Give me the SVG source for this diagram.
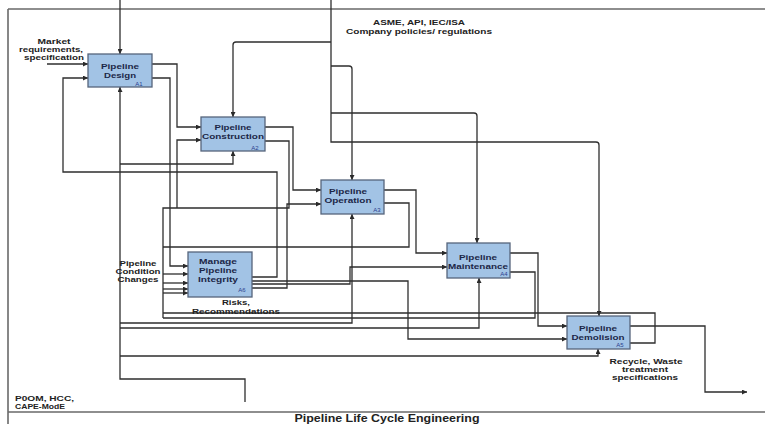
<svg xmlns="http://www.w3.org/2000/svg" width="765" height="424" viewBox="0 0 765 424">
  <defs>
    <marker id="arr" viewBox="0 0 6 6" refX="6" refY="3" markerWidth="5" markerHeight="5" markerUnits="userSpaceOnUse" orient="auto">
      <path d="M0,0 L6,3 L0,6 Z" fill="#2a2a2a"/>
    </marker>
    <style>
      .frame { fill: none; stroke: #6a6a6a; stroke-width: 1.6; }
      .ln { fill: none; stroke: #2e2e2e; stroke-width: 1.3; }
      .ar { marker-end: url(#arr); }
      .box { fill: #a2c3e5; stroke: #56657c; stroke-width: 1.3; }
      .bt { font-family: "Liberation Sans", Arial, sans-serif; font-weight: bold; font-size: 8px; fill: #1c2748; text-anchor: middle; }
      .id { font-family: "Liberation Sans", Arial, sans-serif; font-size: 6px; fill: #2d418e; text-anchor: middle; }
      .lb { font-family: "Liberation Sans", Arial, sans-serif; font-weight: bold; font-size: 8px; fill: #222; text-anchor: middle; }
      .lbs { font-family: "Liberation Sans", Arial, sans-serif; font-weight: bold; font-size: 8px; fill: #222; text-anchor: start; }
      .title { font-family: "Liberation Sans", Arial, sans-serif; font-weight: bold; font-size: 10px; fill: #222; text-anchor: middle; }
    </style>
  </defs>

  <rect x="0" y="0" width="765" height="424" fill="#ffffff"/>

  <!-- page frame -->
  <g id="frame">
    <path class="frame" d="M8,9 H765 M8,9 V424 M8,412 H765"/>
    <text class="title" x="387" y="422" textLength="185" lengthAdjust="spacingAndGlyphs">Pipeline Life Cycle Engineering</text>
  </g>

  <!-- connectors -->
  <g id="connectors">
    <!-- controls from the top -->
    <path class="ln ar" d="M120,0 V54"/>
    <path class="ln ar" d="M331,0 V142 H596 Q599,142 599,145 V316"/>
    <path class="ln ar" d="M331,42 H236 Q233,42 233,45 V117"/>
    <path class="ln ar" d="M331,66 H349 Q352,66 352,69 V180"/>
    <path class="ln ar" d="M331,113 H474 Q477,113 477,116 V243"/>

    <!-- mechanisms from the bottom -->
    <path class="ln ar" d="M245,402 V379 H120 V87"/>
    <path class="ln ar" d="M120,164 H233 V151"/>
    <path class="ln ar" d="M120,323 H352 V214"/>
    <path class="ln ar" d="M120,328 H479 V278"/>
    <path class="ln ar" d="M120,356 H598 V349"/>

    <!-- external input to A1 -->
    <path class="ln ar" d="M47,64 H88"/>

    <!-- A1 outputs -->
    <path class="ln ar" d="M152,64 H177 V127 H201"/>
    <path class="ln ar" d="M152,78 H170 V266 H188"/>

    <!-- A2 outputs -->
    <path class="ln ar" d="M265,127 H293 V190 H321"/>
    <path class="ln" d="M265,141 H289 V208 H163 V318"/>
    <path class="ln ar" d="M177,208 V140 H201"/>

    <!-- A3 outputs -->
    <path class="ln ar" d="M384,190 H416 V253 H447"/>
    <path class="ln" d="M384,203 H409 V247 H163"/>

    <!-- A4 outputs -->
    <path class="ln ar" d="M510,253 H538 V326 H567"/>
    <path class="ln" d="M510,272 H535 V318 H163"/>

    <!-- A5 outputs -->
    <path class="ln ar" d="M630,326 H705 V392 H747"/>
    <path class="ln" d="M630,343 H655 V313 H163"/>

    <!-- feedback trunk into A6 -->
    <path class="ln ar" d="M163,274 H188"/>
    <path class="ln ar" d="M163,283 H188"/>
    <path class="ln ar" d="M163,289 H188"/>
    <path class="ln ar" d="M163,293 H188"/>

    <!-- A6 outputs -->
    <path class="ln ar" d="M252,277 H277 V172 H63 V78 H88"/>
    <path class="ln ar" d="M252,281 H408 V339 H567"/>
    <path class="ln ar" d="M252,284 H350 V267 H447"/>
    <path class="ln ar" d="M252,288 H287 V204 H321"/>
  </g>

  <!-- activity boxes -->
  <g id="A1">
    <rect class="box" x="88" y="54" width="64" height="33"/>
    <text class="bt" x="120" y="69" textLength="38" lengthAdjust="spacingAndGlyphs">Pipeline</text>
    <text class="bt" x="120" y="78" textLength="32" lengthAdjust="spacingAndGlyphs">Design</text>
    <text class="id" x="139" y="86">A1</text>
  </g>
  <g id="A2">
    <rect class="box" x="201" y="117" width="64" height="34"/>
    <text class="bt" x="233" y="130" textLength="37" lengthAdjust="spacingAndGlyphs">Pipeline</text>
    <text class="bt" x="233" y="139" textLength="62" lengthAdjust="spacingAndGlyphs">Construction</text>
    <text class="id" x="255" y="150">A2</text>
  </g>
  <g id="A3">
    <rect class="box" x="321" y="180" width="63" height="34"/>
    <text class="bt" x="348" y="194" textLength="38" lengthAdjust="spacingAndGlyphs">Pipeline</text>
    <text class="bt" x="348" y="203" textLength="47" lengthAdjust="spacingAndGlyphs">Operation</text>
    <text class="id" x="377" y="212">A3</text>
  </g>
  <g id="A4">
    <rect class="box" x="447" y="243" width="63" height="35"/>
    <text class="bt" x="478" y="260" textLength="38" lengthAdjust="spacingAndGlyphs">Pipeline</text>
    <text class="bt" x="478" y="269" textLength="60" lengthAdjust="spacingAndGlyphs">Maintenance</text>
    <text class="id" x="504" y="276">A4</text>
  </g>
  <g id="A5">
    <rect class="box" x="567" y="316" width="63" height="33"/>
    <text class="bt" x="598" y="331" textLength="38" lengthAdjust="spacingAndGlyphs">Pipeline</text>
    <text class="bt" x="598" y="340" textLength="53" lengthAdjust="spacingAndGlyphs">Demolision</text>
    <text class="id" x="620" y="347">A5</text>
  </g>
  <g id="A6">
    <rect class="box" x="188" y="252" width="64" height="45"/>
    <text class="bt" x="218" y="264" textLength="38" lengthAdjust="spacingAndGlyphs">Manage</text>
    <text class="bt" x="218" y="273" textLength="38" lengthAdjust="spacingAndGlyphs">Pipeline</text>
    <text class="bt" x="218" y="282" textLength="40" lengthAdjust="spacingAndGlyphs">Integrity</text>
    <text class="id" x="242" y="292">A6</text>
  </g>

  <!-- arrow labels -->
  <g id="labels">
    <text class="lb" x="54" y="44" textLength="33" lengthAdjust="spacingAndGlyphs">Market</text>
    <text class="lb" x="51" y="52" textLength="64" lengthAdjust="spacingAndGlyphs">requirements,</text>
    <text class="lb" x="54" y="60" textLength="60" lengthAdjust="spacingAndGlyphs">specification</text>

    <text class="lb" x="419" y="25" textLength="92" lengthAdjust="spacingAndGlyphs">ASME, API, IEC/ISA</text>
    <text class="lb" x="419" y="34" textLength="146" lengthAdjust="spacingAndGlyphs">Company policies/ regulations</text>

    <text class="lb" x="138" y="266" textLength="37" lengthAdjust="spacingAndGlyphs">Pipeline</text>
    <text class="lb" x="138" y="274" textLength="45" lengthAdjust="spacingAndGlyphs">Condition</text>
    <text class="lb" x="138" y="282" textLength="41" lengthAdjust="spacingAndGlyphs">Changes</text>

    <text class="lb" x="236" y="305" textLength="28" lengthAdjust="spacingAndGlyphs">Risks,</text>
    <text class="lb" x="236" y="314" textLength="88" lengthAdjust="spacingAndGlyphs">Recommendations</text>

    <text class="lb" x="646" y="364" textLength="73" lengthAdjust="spacingAndGlyphs">Recycle, Waste</text>
    <text class="lb" x="645" y="372" textLength="46" lengthAdjust="spacingAndGlyphs">treatment</text>
    <text class="lb" x="645" y="380" textLength="66" lengthAdjust="spacingAndGlyphs">specifications</text>

    <text class="lbs" x="15" y="401" textLength="59" lengthAdjust="spacingAndGlyphs">P0OM, HCC,</text>
    <text class="lbs" x="15" y="409" textLength="50" lengthAdjust="spacingAndGlyphs">CAPE-ModE</text>
  </g>
</svg>
